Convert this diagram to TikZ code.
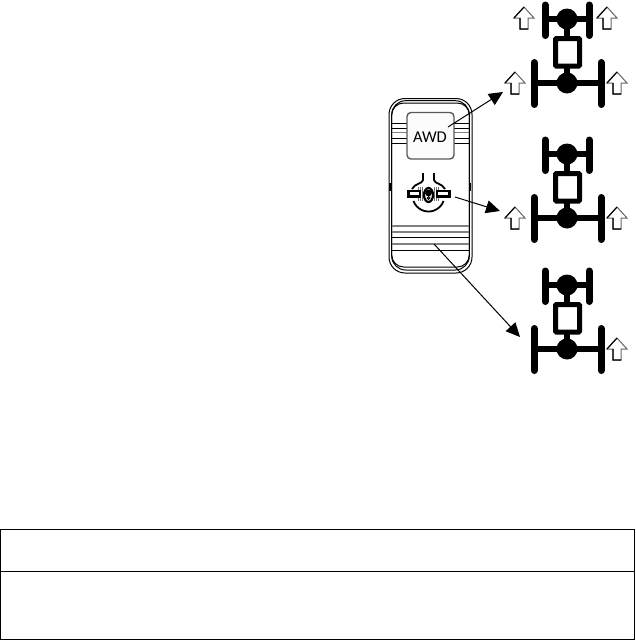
\documentclass[tikz,border=0pt]{standalone}
\usepackage{fontspec}
\setmainfont{Carlito}
\usetikzlibrary{arrows.meta}
\tikzset{
    axle/.style={line width=5.5pt},
    wheel/.style={line width=7pt, line cap=round},
    stripe/.style={line width=1pt},
    greystripe/.style={line width=1.8pt, black!50},
    callout/.style={line width=1pt, -{Triangle[length=14pt,width=13pt]}},
    pics/liftarrow/.style={code={
        \draw[line width=1pt, black!60, fill=white] (-4,11) -- (-4,0) -- (-10,0)
            -- (0,-11) -- (10,0) -- (4,0) -- (4,11) -- cycle;
        \draw[line width=1.1pt] (-10,0) -- (0,-11) (-4,0) -- (-4,11) -- (4,11);
    }},
    pics/drivetrain/.style={code={
        \draw[axle] (545,19) -- (589,19);
        \draw[axle] (534,83) -- (601,83);
        \draw[axle] (567,19) -- (567,83);
        \draw[wheel] (545,5) -- (545,35.5);
        \draw[wheel] (589,5) -- (589,35.5);
        \draw[wheel] (534,62.5) -- (534,104.5);
        \draw[wheel] (601,62.5) -- (601,104.5);
        \draw[line width=5pt, fill=white, rounded corners=1pt] (555.5,38.5) rectangle (579.5,66);
        \fill (567,19) circle (10.5);
        \fill (567,83) circle (10.5);
    }},
}
\begin{document}
\begin{tikzpicture}[x=1pt, y=-1pt]
    \useasboundingbox (0,0) rectangle (635,640);

    % drive layouts
    \foreach \dy in {0,135,266}
        \pic at (0,\dy) {drivetrain};
    \pic at (524,18) {liftarrow};
    \pic at (607,18) {liftarrow};
    \pic at (515,83) {liftarrow};
    \pic at (617,83) {liftarrow};
    \pic at (515,218) {liftarrow};
    \pic at (617,218) {liftarrow};
    \pic at (617,349) {liftarrow};

    % rocker switch
    \draw[line width=1pt, rounded corners=16pt] (389,98.5) rectangle (472,273);
    \draw[line width=1pt, rounded corners=14pt] (391.7,100.7) rectangle (469.3,270);
    \draw[line width=1pt, rounded corners=12pt] (391.7,103) rectangle (469.3,267);
    \foreach \y in {123,128,138,143,237,250}
        \draw[stripe] (391.7,\y) -- (469.3,\y);
    \foreach \y in {132.5,225.7,232,244}
        \draw[greystripe] (391.7,\y) -- (469.3,\y);
    \draw[line width=1.6pt] (390,183) -- (390,191);
    \draw[line width=1.6pt] (470.5,183) -- (470.5,191);

    \draw[line width=1.4pt, black!65, fill=black!1, rounded corners=4pt] (407,112.5) rectangle (454,159);
    \node[font=\fontsize{16.5}{19}\selectfont, inner sep=0pt] (awd) at (430,137) {AWD};

    % diff lock symbol
    \draw[line width=1.8pt] (423,173) -- (423,180) .. controls (422.5,184) and (415,183) .. (412,189);
    \draw[line width=1.8pt] (434,173) -- (434,180) .. controls (434.5,184) and (442,183) .. (445,189);
    \draw[line width=1.8pt] (413.5,201) arc[start angle=160, end angle=20, radius=16];
    \foreach \x in {418.5,420.5,422.5,434.5,436.5,438.5}
        \draw[line width=1.3pt, black!55] (\x,187) -- (\x,201);
    \draw[line width=2.4pt, fill=white] (408.5,191) rectangle (420,196.5);
    \draw[line width=2.4pt, fill=white] (437,191) rectangle (449.5,196.5);
    \draw[line width=2.2pt, fill=white] (428.5,195) ellipse (4.5 and 7);
    \fill (428.5,193) circle (3.4);
    \draw[line width=1pt, fill=white] (428.5,198) circle (1.3);

    % callouts
    \coordinate (awdout) at (448,127);
    \coordinate (lockout) at (455,197);
    \coordinate (offout) at (434,244);
    \coordinate (alltip) at (503,92);
    \coordinate (reartip) at (500,211);
    \coordinate (offtip) at (520,337);
    \draw[callout] (awdout) -- (alltip);
    \draw[callout] (lockout) -- (reartip);
    \draw[callout] (offout) -- (offtip);

    % empty table
    \draw[line width=1pt] (0.5,529.5) rectangle (634.5,639);
    \draw[line width=1pt] (0.5,571.5) -- (634.5,571.5);
\end{tikzpicture}
\end{document}
